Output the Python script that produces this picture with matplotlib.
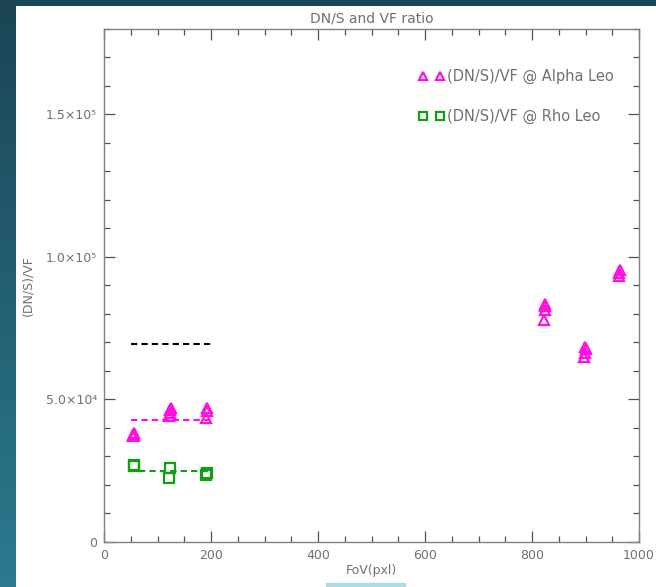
import numpy as np
import matplotlib
matplotlib.use("Agg")
import matplotlib.pyplot as plt
from matplotlib.patches import Rectangle

# (DN/S)/VF @ Alpha Leo
alpha_fov = [54, 55, 56, 57, 122, 123, 124, 125, 191, 192, 193,
             823, 824, 825, 824, 898, 899, 900, 899, 962, 963, 964]
alpha_ratio = [37000, 37600, 38200, 37300, 44000, 45200, 46200, 47000, 43500, 46000, 46800,
               77700, 81400, 82600, 83300, 64800, 66200, 67600, 68500, 93300, 94500, 95500]

# (DN/S)/VF @ Rho Leo
rho_fov = [56, 57, 121, 123, 191, 193]
rho_ratio = [26500, 27000, 22300, 25800, 23400, 24200]

# horizontal reference levels
ref_fov = [50, 200]
black_level = 69300
alpha_level = 42700
rho_level = 24900
rho_ref_fov = [65, 200]

magenta = "#ff10e0"
green = "#10a010"
grey = "#707070"

fig = plt.figure(figsize=(6.56, 5.87), dpi=100)
fig.patch.set_facecolor("#1c4756")

# slide background: dark gradient strip on the left, white page
strip = fig.add_axes([0, 0, 16 / 656, 1])
strip.imshow(np.linspace(0, 1, 100).reshape(-1, 1), aspect="auto",
             cmap=matplotlib.colors.LinearSegmentedColormap.from_list("s", ["#1b4555", "#2b7a8f"]))
strip.set_axis_off()
page = fig.add_axes([16 / 656, 0, 640 / 656, 581 / 587])
page.set_facecolor("white")
page.set_xticks([])
page.set_yticks([])
for s in page.spines.values():
    s.set_visible(False)
fig.patches.append(Rectangle((326 / 656, 0), 79 / 656, 4 / 587, transform=fig.transFigure,
                             color="#a9dbe8", zorder=5))

ax = fig.add_axes([104 / 656, 45.3 / 587, 535 / 656, 512.7 / 587])
ax.set_facecolor("none")

ax.plot(ref_fov, [black_level] * 2, ls="--", color="black", lw=1.5, dashes=(3, 2))
ax.plot(ref_fov, [alpha_level] * 2, ls="--", color=magenta, lw=1.5, dashes=(3, 2))
ax.plot(rho_ref_fov, [rho_level] * 2, ls="--", color=green, lw=1.5, dashes=(3, 2))

ax.plot(alpha_fov, alpha_ratio, ls="none", marker="^", ms=6.5, mfc="none", mec=magenta, mew=1.6,
        label="(DN/S)/VF @ Alpha Leo")
ax.plot(rho_fov, rho_ratio, ls="none", marker="s", ms=6.5, mfc="none", mec=green, mew=1.6,
        label="(DN/S)/VF @ Rho Leo")

ax.set_xlim(0, 1000)
ax.set_ylim(0, 180000)
ax.set_xticks(np.arange(0, 1001, 200))
ax.set_xticks(np.arange(0, 1001, 50), minor=True)
ax.set_yticks([0, 50000, 100000, 150000])
ax.set_yticks(np.arange(0, 180001, 10000), minor=True)
ax.set_yticklabels(["0", "5.0×10⁴", "1.0×10⁵", "1.5×10⁵"])
ax.tick_params(which="both", direction="in", top=True, right=True, colors="#505050",
               labelcolor=grey, labelsize=9, width=0.9, pad=5)
ax.tick_params(which="major", length=8)
ax.tick_params(which="minor", length=4)
for s in ax.spines.values():
    s.set_color("#808080")
    s.set_linewidth(1.0)

ax.set_title("DN/S and VF ratio", color=grey, fontsize=10, pad=5)
ax.set_xlabel("FoV(pxl)", color=grey, fontsize=9, labelpad=2)
ax.set_ylabel("(DN/S)/VF", color=grey, fontsize=9, labelpad=8)

leg = ax.legend(loc="upper left", bbox_to_anchor=(0.588, 0.922), numpoints=2, frameon=False,
                handlelength=1.8, handletextpad=0.15, labelspacing=1.7, borderpad=0,
                borderaxespad=0, fontsize=10.5, markerscale=0.85)
for t in leg.get_texts():
    t.set_color(grey)

fig.savefig("out.png", dpi=100, facecolor=fig.get_facecolor())
